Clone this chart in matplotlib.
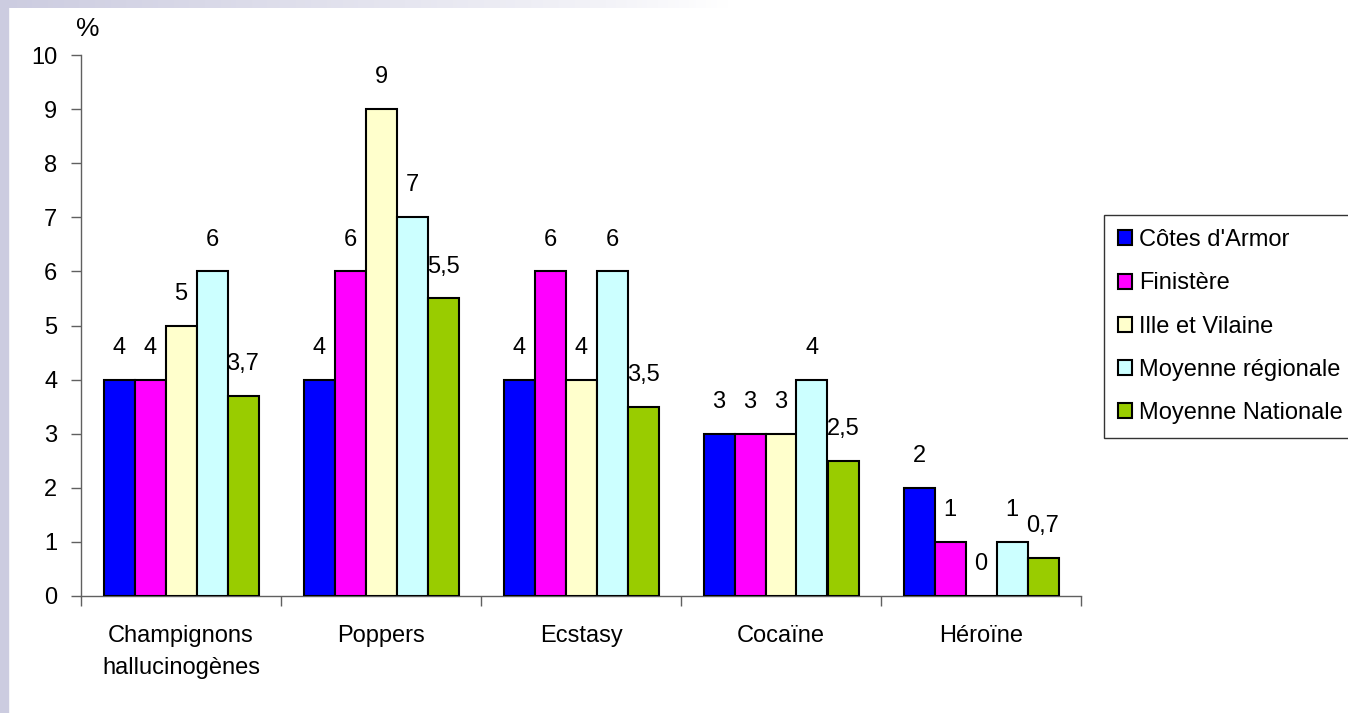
import numpy as np
import matplotlib.pyplot as plt
from matplotlib.colors import LinearSegmentedColormap

plt.rcParams['font.family'] = ['Liberation Sans', 'DejaVu Sans']

categories = ['Champignons\nhallucinogènes', 'Poppers', 'Ecstasy', 'Cocaïne', 'Héroïne']
series = ["Côtes d'Armor", 'Finistère', 'Ille et Vilaine', 'Moyenne régionale', 'Moyenne Nationale']
cotes = [4, 4, 4, 3, 2]
finistere = [4, 6, 6, 3, 1]
ille = [5, 9, 4, 3, 0]
regionale = [6, 7, 6, 4, 1]
nationale = [3.7, 5.5, 3.5, 2.5, 0.7]
colors = ['#0000FF', '#FF00FF', '#FFFFCC', '#CCFFFF', '#99CC00']

values = [cotes, finistere, ille, regionale, nationale]
FS = 17

fig = plt.figure(figsize=(13.48, 7.13), dpi=100)

# lavender frame on left / top (top fades to white)
W, H = 1348, 713
fig.patches.append(plt.Rectangle((0, 0), 8 / W, 1, transform=fig.transFigure,
                                 color='#CCCCE0', zorder=0))
band = fig.add_axes([0, 1 - 8 / H, 1, 8 / H])
grad = np.linspace(0, 1, 512)
cmap = LinearSegmentedColormap.from_list(
    'fade', [(0, '#CCCCE0'), (0.45, '#F3F3F8'), (0.54, '#FFFFFF'), (1, '#FFFFFF')])
band.imshow(grad[np.newaxis, :], aspect='auto', cmap=cmap)
band.axis('off')

ax = fig.add_axes([81 / W, 1 - 596 / H, 1000 / W, 541 / H])

x = np.arange(len(categories))
bw = 0.155
for i, (name, vals, c) in enumerate(zip(series, values, colors)):
    pos = x + (i - 2) * bw
    ax.bar(pos, vals, bw, color=c, edgecolor='black', linewidth=1.5, label=name, zorder=3)
    for p, v in zip(pos, vals):
        txt = f'{v:g}'.replace('.', ',')
        ax.annotate(txt, (p, v), xytext=(0, 15), textcoords='offset points',
                    ha='center', va='bottom', fontsize=FS)

ax.set_xlim(-0.5, 4.5)
ax.set_ylim(0, 10)
ax.set_yticks(range(0, 11))
ax.set_xticks(x)
ax.set_xticklabels(categories, linespacing=1.6)
ax.set_xticks(np.arange(-0.5, 5, 1), minor=True)
ax.tick_params(axis='x', which='major', length=0, pad=21, labelsize=FS)
ax.tick_params(axis='x', which='minor', length=7, width=1, color='#606060')
ax.tick_params(axis='y', length=7, width=1, color='#606060', pad=10, labelsize=FS)
for s in ['top', 'right']:
    ax.spines[s].set_visible(False)
for s in ['left', 'bottom']:
    ax.spines[s].set_color('#606060')
    ax.spines[s].set_linewidth(1)

ax.text(0.007, 1.025, '%', transform=ax.transAxes, fontsize=19, ha='center', va='bottom')

leg = fig.legend(loc='upper left', bbox_to_anchor=(1104 / W, 1 - 215 / H),
                 fontsize=FS, frameon=True, fancybox=False, edgecolor='black',
                 handlelength=0.6, handleheight=0.6, handletextpad=0.3,
                 labelspacing=0.9, borderpad=0.6, borderaxespad=0)
leg.get_frame().set_linewidth(1)
for h in leg.legend_handles:
    h.set_linewidth(1.5)

fig.savefig('out.png', dpi=100)
